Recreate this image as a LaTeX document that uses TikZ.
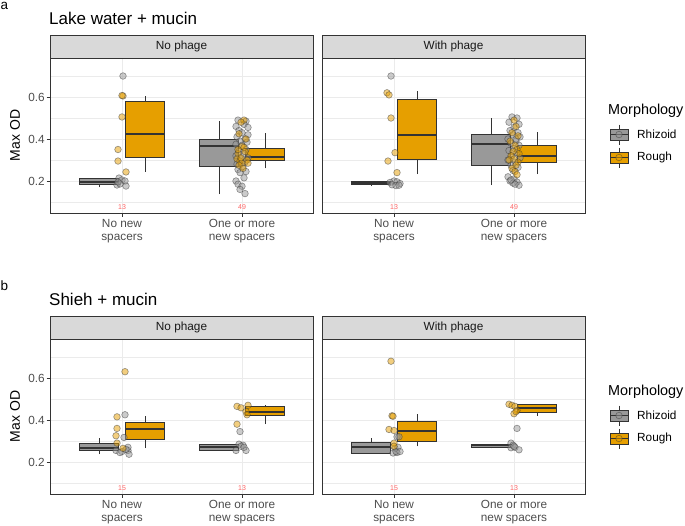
\documentclass[tikz,border=0pt]{standalone}
\usepackage{fontspec}
\setmainfont{Liberation Sans}
\definecolor{roughc}{HTML}{E69F00}
\definecolor{rhizc}{HTML}{999999}
\definecolor{gridc}{HTML}{EBEBEB}
\definecolor{stripc}{HTML}{D9D9D9}
\definecolor{framec}{HTML}{333333}
\definecolor{textc}{HTML}{4D4D4D}
\definecolor{countc}{HTML}{FF6666}

% boxplot: x, lower whisker, q1, median, q3, upper whisker, fill
\newcommand{\bxp}[7]{%
  \draw[framec, line width=0.9pt] (#1,#2) -- (#1,#3) (#1,#5) -- (#1,#6);
  \filldraw[framec, line width=0.9pt, fill=#7] (#1-19.5,#3) rectangle (#1+19.5,#5);
  \draw[framec, line width=2pt] (#1-19.5,#4) -- (#1+19.5,#4);}

\begin{document}
\begin{tikzpicture}[x=1pt, y=-1pt, font=\fontsize{11.8}{13}\selectfont,
  lbl/.style={text=textc, inner sep=0pt},
  rhizpt/.style={fill=rhizc, fill opacity=0.5, draw=framec, draw opacity=0.5, line width=0.6pt},
  roughpt/.style={fill=roughc, fill opacity=0.5, draw=framec, draw opacity=0.5, line width=0.6pt}]
\useasboundingbox (0,0) rectangle (685,525);

% panel labels and titles
\node[anchor=base west, inner sep=0pt, font=\fontsize{13.5}{15}\selectfont] (laba) at (0.5,9.3) {a};
\node[anchor=base west, inner sep=0pt, font=\fontsize{13.5}{15}\selectfont] (labb) at (0.5,290.3) {b};
\node[anchor=base west, inner sep=0pt, font=\fontsize{17}{20}\selectfont] (titlea) at (49,24.5) {Lake water + mucin};
\node[anchor=base west, inner sep=0pt, font=\fontsize{17}{20}\selectfont] (titleb) at (49,305.5) {Shieh + mucin};

% facets: background, grid, strip, axes
\foreach \r/\yo/\na/\nb in {a/0/13/49, b/281/15/13} {
  \node[rotate=90, inner sep=0pt, font=\fontsize{14}{16}\selectfont] (yl\r) at (15,135.5+\yo) {Max OD};
  \foreach \v in {0.2,0.4,0.6} {
    \draw[framec, line width=0.8pt] (46.5,223+\yo-210*\v) -- (50,223+\yo-210*\v);
    \node[lbl, anchor=east] (yt\r\v) at (45,223+\yo-210*\v) {\v};
  }
  \foreach \px/\ph in {50/No phage, 322/With phage} {
    \fill[white] (\px,58+\yo) rectangle (\px+263,213+\yo);
    \foreach \v in {0.1,0.3,0.5,0.7}
      \draw[gridc, line width=0.5pt] (\px,223+\yo-210*\v) -- ++(263,0);
    \foreach \v in {0.2,0.4,0.6}
      \draw[gridc, line width=1pt] (\px,223+\yo-210*\v) -- ++(263,0);
    \foreach \cx in {72,192}
      \draw[gridc, line width=1pt] (\px+\cx,58+\yo) -- (\px+\cx,213+\yo);
    \draw[framec, line width=0.8pt] (\px,58+\yo) rectangle (\px+263,213+\yo);
    \filldraw[fill=stripc, draw=framec, line width=0.8pt] (\px,35+\yo) rectangle (\px+263,58+\yo);
    \node[text=black!90, inner sep=0pt] (strip\r\px) at (\px+131.5,46.5+\yo) {\ph};
    \draw[framec, line width=0.8pt] (\px+72,213+\yo) -- ++(0,3.5);
    \draw[framec, line width=0.8pt] (\px+192,213+\yo) -- ++(0,3.5);
    \node[lbl, anchor=north, align=center] (cn\r\px) at (\px+72,219+\yo) {No new\\spacers};
    \node[lbl, anchor=north, align=center] (cm\r\px) at (\px+192,219+\yo) {One or more\\new spacers};
    \node[text=countc, inner sep=0pt, font=\fontsize{7}{8}\selectfont] (nn\r\px) at (\px+72,207+\yo) {\na};
    \node[text=countc, inner sep=0pt, font=\fontsize{7}{8}\selectfont] (nm\r\px) at (\px+192,207+\yo) {\nb};
  }
  % legend
  \node[anchor=base west, inner sep=0pt, font=\fontsize{14.4}{16}\selectfont] (leg\r) at (608,114+\yo) {Morphology};
  \foreach \ky/\kc/\kp/\kl in {134.5/rhizc/rhizpt/Rhizoid, 157.5/roughc/roughpt/Rough} {
    \draw[framec, line width=0.8pt] (619,\ky-10+\yo) -- (619,\ky+10+\yo);
    \filldraw[framec, line width=0.8pt, fill=\kc] (610,\ky-5.5+\yo) rectangle (628,\ky+5.5+\yo);
    \draw[framec, line width=1.2pt] (610,\ky+\yo) -- (628,\ky+\yo);
    \filldraw[\kp] (619,\ky+\yo) circle[radius=3.3pt];
    \node[anchor=west, inner sep=0pt] (key\r\kl) at (637,\ky+\yo) {\kl};
  }
}

% a: Lake water + mucin
\begin{scope}[x=1pt, y=210pt, shift={(0pt,-223pt)}]
  \bxp{99}{0.17}{0.182}{0.195}{0.21}{0.212}{rhizc}
  \bxp{145}{0.243}{0.314}{0.424}{0.58}{0.605}{roughc}
  \bxp{219}{0.138}{0.27}{0.367}{0.40}{0.486}{rhizc}
  \bxp{265}{0.26}{0.30}{0.314}{0.357}{0.428}{roughc}
  \bxp{371}{0.177}{0.185}{0.19}{0.2}{0.2}{rhizc}
  \bxp{417}{0.233}{0.305}{0.419}{0.59}{0.629}{roughc}
  \bxp{491}{0.18}{0.272}{0.377}{0.422}{0.5}{rhizc}
  \bxp{537}{0.233}{0.287}{0.319}{0.367}{0.435}{roughc}
  \foreach \dx/\v in {1/0.70, -3/0.214, 0/0.205, 3/0.2, -5/0.181, -2/0.186, 4/0.176, -4/0.195}
    \filldraw[rhizpt] (122+\dx,\v) circle[radius=3.3pt];
  \foreach \dx/\v in {1/0.605, 0/0.607, 0/0.505, -4/0.35, -4/0.295, 4/0.243}
    \filldraw[roughpt] (122+\dx,\v) circle[radius=3.3pt];
  \foreach \dx/\v in {-4/0.49, 4/0.485, -6/0.46, 2/0.47, 6/0.455, -3/0.44, 0/0.43, 6/0.42, -5/0.41, 3/0.40,
      -2/0.39, 5/0.385, -6/0.375, 0/0.37, 4/0.35, -3/0.34, 2/0.33, -6/0.32, 6/0.31, -1/0.30, 3/0.29,
      -5/0.28, 1/0.27, -4/0.255, 4/0.245, -2/0.24, -6/0.2, 2/0.215, -4/0.185, 0/0.175, -2/0.16, 3/0.14}
    \filldraw[rhizpt] (242+\dx,\v) circle[radius=3.3pt];
  \foreach \dx/\v in {2/0.49, -1/0.48, -3/0.425, 4/0.40, 0/0.365, 2/0.36, -4/0.33, -5/0.305, 5/0.30,
      -2/0.295, 0/0.285, 6/0.285, -3/0.275, 3/0.34, -1/0.31, 1/0.26, -4/0.35}
    \filldraw[roughpt] (242+\dx,\v) circle[radius=3.3pt];
  \foreach \dx/\v in {-3/0.70, 0/0.2, -4/0.193, 3/0.196, 6/0.188, -2/0.182, 2/0.178, 5/0.18}
    \filldraw[rhizpt] (394+\dx,\v) circle[radius=3.3pt];
  \foreach \dx/\v in {-7/0.62, -5/0.61, -3/0.5, 1/0.335, -6/0.295, 3/0.24}
    \filldraw[roughpt] (394+\dx,\v) circle[radius=3.3pt];
  \foreach \dx/\v in {-2/0.505, 3/0.50, -5/0.48, 5/0.47, 0/0.455, -4/0.44, 4/0.43, -1/0.42, 6/0.41, -6/0.40,
      2/0.39, -3/0.38, 5/0.37, 0/0.355, -5/0.345, 3/0.335, -2/0.32, 6/0.31, -6/0.30, 1/0.29, -3/0.275,
      4/0.265, -1/0.25, -6/0.22, 0/0.21, -4/0.2, 3/0.195, -1/0.19, 5/0.18, 1/0.185, -3/0.205, 2/0.4}
    \filldraw[rhizpt] (514+\dx,\v) circle[radius=3.3pt];
  \foreach \dx/\v in {0/0.49, 2/0.46, -2/0.43, 4/0.415, -4/0.39, 1/0.37, 3/0.35, -1/0.34, 5/0.33,
      -3/0.32, 0/0.305, 4/0.29, -5/0.30, 2/0.275, -2/0.26, 1/0.245, 3/0.23}
    \filldraw[roughpt] (514+\dx,\v) circle[radius=3.3pt];
\end{scope}

% b: Shieh + mucin
\begin{scope}[x=1pt, y=210pt, shift={(0pt,-504pt)}]
  \bxp{99}{0.238}{0.257}{0.266}{0.29}{0.313}{rhizc}
  \bxp{145}{0.266}{0.309}{0.355}{0.389}{0.417}{roughc}
  \bxp{219}{0.255}{0.257}{0.27}{0.285}{0.285}{rhizc}
  \bxp{265}{0.38}{0.422}{0.44}{0.464}{0.47}{roughc}
  \bxp{371}{0.24}{0.243}{0.27}{0.294}{0.313}{rhizc}
  \bxp{417}{0.275}{0.30}{0.346}{0.393}{0.43}{roughc}
  \bxp{491}{0.265}{0.27}{0.28}{0.285}{0.285}{rhizc}
  \bxp{537}{0.42}{0.435}{0.455}{0.472}{0.472}{roughc}
  \foreach \dx/\v in {3/0.425, 2/0.317, -6/0.255, 6/0.255, 7/0.237, 6/0.27, 0/0.25, -2/0.245, 4/0.26}
    \filldraw[rhizpt] (122+\dx,\v) circle[radius=3.3pt];
  \foreach \dx/\v in {3/0.63, -5/0.415, -5/0.36, -6/0.325, -5/0.29, 1/0.265}
    \filldraw[roughpt] (122+\dx,\v) circle[radius=3.3pt];
  \foreach \dx/\v in {-2/0.345, -3/0.285, 1/0.28, -6/0.255, 4/0.255, -1/0.275, 2/0.27}
    \filldraw[rhizpt] (242+\dx,\v) circle[radius=3.3pt];
  \foreach \dx/\v in {-5/0.465, -1/0.458, 6/0.47, 4/0.44, 5/0.425, -5/0.38}
    \filldraw[roughpt] (242+\dx,\v) circle[radius=3.3pt];
  \foreach \dx/\v in {3/0.32, 5/0.32, 1/0.265, 4/0.27, 3/0.245, -1/0.243, 2/0.25, 6/0.25}
    \filldraw[rhizpt] (394+\dx,\v) circle[radius=3.3pt];
  \foreach \dx/\v in {-3/0.68, -2/0.42, -1/0.418, -5/0.355, 0/0.35, 0/0.29, 0/0.275}
    \filldraw[roughpt] (394+\dx,\v) circle[radius=3.3pt];
  \foreach \dx/\v in {3/0.36, -3/0.29, -1/0.28, -3/0.268, 1/0.27, 5/0.258, 0/0.275}
    \filldraw[rhizpt] (514+\dx,\v) circle[radius=3.3pt];
  \foreach \dx/\v in {-5/0.475, -2/0.47, 1/0.465, 3/0.445, 0/0.43, 2/0.44}
    \filldraw[roughpt] (514+\dx,\v) circle[radius=3.3pt];
\end{scope}
\end{tikzpicture}
\end{document}
